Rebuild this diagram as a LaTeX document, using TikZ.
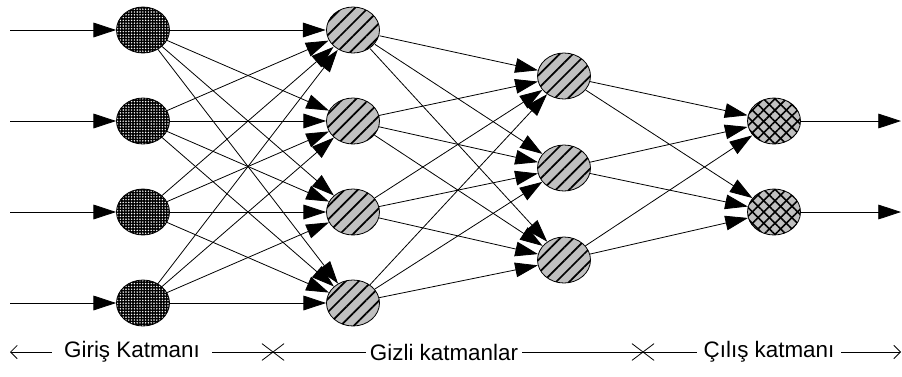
\documentclass[tikz,border=0pt]{standalone}
\usepackage{fontspec}
\setmainfont{Liberation Sans}
\usetikzlibrary{arrows.meta,shapes.geometric,shapes.misc,patterns.meta}
\definecolor{silver}{RGB}{192,192,192}

\begin{document}
\begin{tikzpicture}[x=0.75pt,y=-0.75pt,
  >={Triangle[length=17pt,width=11pt]},
  neuron/.style={ellipse,draw,line width=0.6pt,inner sep=0pt,minimum width=39.75pt,minimum height=34.5pt},
  innode/.style={neuron,preaction={fill=black},pattern={Dots[distance=2.1pt,radius=0.6pt]},pattern color=white},
  hidnode/.style={neuron,preaction={fill=silver},pattern={Lines[angle=45,distance=7pt,line width=1.3pt]}},
  outnode/.style={neuron,preaction={fill=silver},pattern={Lines[angle=45,distance=6pt,line width=1.2pt]},
    postaction={pattern={Lines[angle=-45,distance=6pt,line width=1.2pt]}}},
  link/.style={->,line width=0.6pt},
  laytext/.style={font=\fontsize{16.8}{20}\selectfont,inner ysep=2pt},
  crossmark/.style={cross out,draw,line width=0.6pt,inner sep=0pt,minimum width=16pt,minimum height=12pt},
  dimline/.style={line width=0.6pt}]
\useasboundingbox (0,0) rectangle (902,376);

% input layer
\path (143,30) node[innode] (I1){};
\path (143,121) node[innode] (I2){};
\path (143,212) node[innode] (I3){};
\path (143,303) node[innode] (I4){};
\coordinate (i1) at (10,30);
\coordinate (i2) at (10,121);
\coordinate (i3) at (10,212);
\coordinate (i4) at (10,303);
\draw[link] (i1) -- (I1);
\draw[link] (i2) -- (I2);
\draw[link] (i3) -- (I3);
\draw[link] (i4) -- (I4);

% first hidden layer
\path (353,30) node[hidnode] (H1){};
\path (353,121) node[hidnode] (H2){};
\path (353,212) node[hidnode] (H3){};
\path (353,303) node[hidnode] (H4){};

% second hidden layer
\path (564,76) node[hidnode] (G1){};
\path (564,168) node[hidnode] (G2){};
\path (564,260) node[hidnode] (G3){};

% output layer
\path (774,121) node[outnode] (O1){};
\path (774,212) node[outnode] (O2){};
\coordinate (o1) at (901,121);
\coordinate (o2) at (901,212);
\draw[link] (O1) -- (o1);
\draw[link] (O2) -- (o2);

% input -> hidden
\draw[link] (I1) -- (H1); \draw[link] (I1) -- (H2); \draw[link] (I1) -- (H3); \draw[link] (I1) -- (H4);
\draw[link] (I2) -- (H1); \draw[link] (I2) -- (H2); \draw[link] (I2) -- (H3); \draw[link] (I2) -- (H4);
\draw[link] (I3) -- (H1); \draw[link] (I3) -- (H2); \draw[link] (I3) -- (H3); \draw[link] (I3) -- (H4);
\draw[link] (I4) -- (H1); \draw[link] (I4) -- (H2); \draw[link] (I4) -- (H3); \draw[link] (I4) -- (H4);

% hidden -> hidden
\draw[link] (H1) -- (G1); \draw[link] (H1) -- (G2); \draw[link] (H1) -- (G3);
\draw[link] (H2) -- (G1); \draw[link] (H2) -- (G2); \draw[link] (H2) -- (G3);
\draw[link] (H3) -- (G1); \draw[link] (H3) -- (G2); \draw[link] (H3) -- (G3);
\draw[link] (H4) -- (G1); \draw[link] (H4) -- (G2); \draw[link] (H4) -- (G3);

% hidden -> output
\draw[link] (G1) -- (O1); \draw[link] (G1) -- (O2);
\draw[link] (G2) -- (O1); \draw[link] (G2) -- (O2);
\draw[link] (G3) -- (O1); \draw[link] (G3) -- (O2);

% layer names along the bottom
\path (132,352) node[laytext,inner xsep=9pt] (lin){Giriş Katmanı};
\path (444,352) node[laytext,inner xsep=3pt] (lhid){Gizli katmanlar};
\path (769,352) node[laytext,inner xsep=5pt] (lout){Çılış katmanı};
\path (273,352) node[crossmark] (x1){};
\path (643,352) node[crossmark] (x2){};
\coordinate (s) at (10,352);
\coordinate (e) at (901,352);
\draw[dimline,{Straight Barb[length=5pt,width=10pt]}-] (s) -- (lin);
\draw[dimline] (lin) -- (x1.center) -- (lhid);
\draw[dimline] (lhid) -- (x2.center) -- (lout);
\draw[dimline,-{Straight Barb[length=5pt,width=10pt]}] (lout) -- (e);
\end{tikzpicture}
\end{document}
